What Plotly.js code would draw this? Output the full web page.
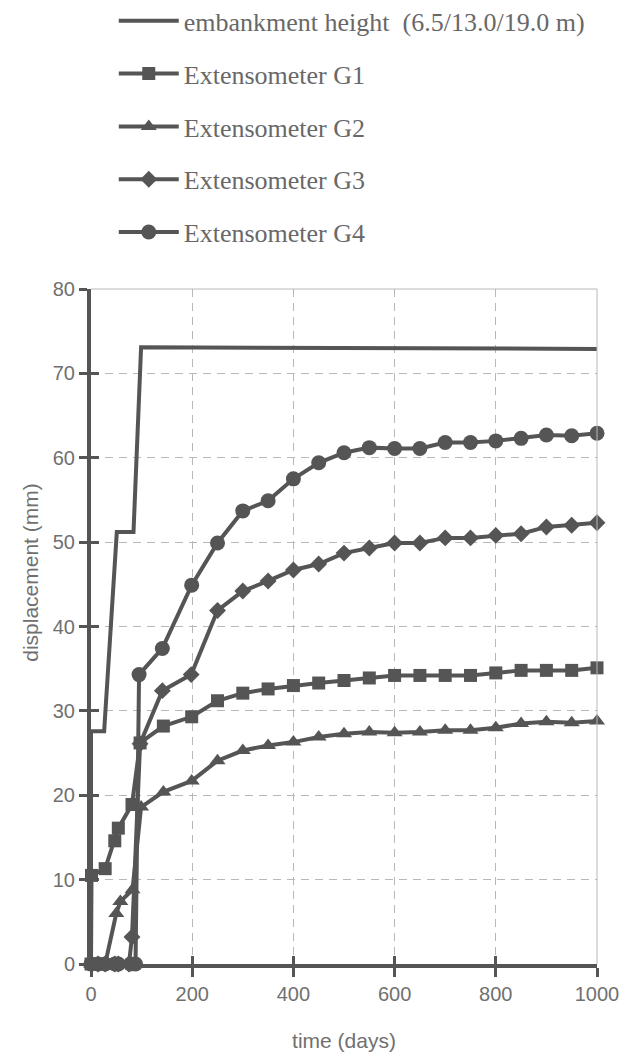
<!DOCTYPE html>
<html>
<head>
<meta charset="utf-8">
<script src="https://cdn.plot.ly/plotly-3.0.1.min.js"></script>
<style>html,body{margin:0;padding:0;background:#fff;}#chart{width:637px;height:1061px;}</style>
</head>
<body>
<div id="chart"></div>
<script>
// ---- data ----
var embankDays = [0, 0, 26, 51, 84, 99, 1000];
var embankHeight = [0, 27.6, 27.6, 51.2, 51.2, 73.1, 72.9];

var g1Days = [0, 1, 28, 47, 54, 81, 97, 143, 199, 250, 300, 350, 400, 450, 500, 550, 600, 650, 700, 750, 800, 850, 900, 950, 1000];
var g1Disp = [0, 10.5, 11.3, 14.6, 16.1, 18.9, 26.2, 28.2, 29.3, 31.2, 32.1, 32.6, 33.0, 33.3, 33.6, 33.9, 34.2, 34.2, 34.2, 34.2, 34.5, 34.8, 34.8, 34.8, 35.1];

var g2Days = [0, 14, 28, 50, 58, 82, 99, 143, 199, 250, 300, 350, 400, 450, 500, 550, 600, 650, 700, 750, 800, 850, 900, 950, 1000];
var g2Disp = [0, 0, 0, 6.0, 7.4, 8.8, 18.6, 20.4, 21.7, 24.1, 25.3, 25.9, 26.3, 26.9, 27.3, 27.5, 27.4, 27.5, 27.7, 27.7, 28.0, 28.5, 28.7, 28.6, 28.8];

var g3Days = [0, 14, 28, 47, 54, 75, 81, 97, 141, 198, 250, 300, 350, 400, 450, 500, 550, 600, 650, 700, 750, 800, 850, 900, 950, 1000];
var g3Disp = [0, 0, 0, 0, 0, 0, 3.2, 26.1, 32.4, 34.3, 41.9, 44.2, 45.4, 46.7, 47.4, 48.7, 49.3, 49.9, 49.9, 50.5, 50.5, 50.8, 51.0, 51.8, 52.0, 52.3];

var g4Days = [0, 14, 28, 47, 54, 78, 88, 95, 141, 199, 250, 300, 350, 400, 450, 500, 550, 600, 650, 700, 750, 800, 850, 900, 950, 1000];
var g4Disp = [0, 0, 0, 0, 0, 0, 0, 34.3, 37.4, 44.9, 49.9, 53.7, 54.9, 57.5, 59.4, 60.6, 61.2, 61.1, 61.1, 61.8, 61.8, 62.0, 62.3, 62.7, 62.6, 62.9];

var xTicks = [0, 200, 400, 600, 800, 1000];
var yTicks = [0, 10, 20, 30, 40, 50, 60, 70, 80];

var seriesNames = ['embankment height  (6.5/13.0/19.0 m)', 'Extensometer G1', 'Extensometer G2', 'Extensometer G3', 'Extensometer G4'];

// ---- styling ----
var ink = '#555555';
var textGray = '#707070';
function series(x, y, name, symbol, size, grp) {
  var t = {
    x: x, y: y, name: name, type: 'scatter',
    mode: symbol ? 'lines+markers' : 'lines',
    line: {color: ink, width: 4},
    legendgroup: grp, cliponaxis: false
  };
  if (symbol) t.marker = {symbol: symbol, size: size, color: ink};
  return t;
}
var traces = [
  series(embankDays, embankHeight, seriesNames[0], null, 0, 'a'),
  series(g1Days, g1Disp, seriesNames[1], 'square', 13, 'b'),
  series(g2Days, g2Disp, seriesNames[2], 'triangle-up', 14, 'c'),
  series(g3Days, g3Disp, seriesNames[3], 'diamond', 13, 'd'),
  series(g4Days, g4Disp, seriesNames[4], 'circle', 15, 'e'),
  {x: [0], y: [0], xaxis: 'x2', yaxis: 'y2', showlegend: false, type: 'scatter', mode: 'markers', marker: {opacity: 0}}
];

var layout = {
  width: 637, height: 1061,
  margin: {l: 91, r: 40, t: 289, b: 97, pad: 0, autoexpand: false},
  paper_bgcolor: '#fff', plot_bgcolor: '#fff',
  font: {family: 'Liberation Sans, Arial, sans-serif', color: textGray},
  showlegend: true,
  legend: {
    x: 0.045, xanchor: 'left', y: 1.432, yanchor: 'top',
    font: {family: 'Liberation Serif, Times New Roman, serif', size: 26, color: '#686868'},
    tracegroupgap: 16, itemwidth: 60, bgcolor: 'rgba(0,0,0,0)'
  },
  xaxis: {
    range: [0, 1000], tickvals: xTicks, ticktext: xTicks.map(String),
    showline: true, linecolor: ink, linewidth: 4,
    ticks: 'outside', ticklen: 9, tickwidth: 3, tickcolor: ink,
    showgrid: true, gridcolor: '#b8b8b8', griddash: '8px,6px', gridwidth: 1,
    zeroline: false, tickfont: {size: 20, color: textGray},
    title: {text: 'time (days)', font: {size: 21, color: textGray}, standoff: 30}
  },
  yaxis: {
    range: [0, 80], tickvals: yTicks, ticktext: yTicks.map(String),
    showline: true, linecolor: ink, linewidth: 4,
    ticks: 'outside', ticklen: 8, tickwidth: 3, tickcolor: ink,
    showgrid: true, gridcolor: '#b8b8b8', griddash: '8px,6px', gridwidth: 1,
    zeroline: false, tickfont: {size: 20, color: textGray}
  },
  xaxis2: {range: [0, 1000], overlaying: 'x', tickvals: xTicks, ticks: 'inside', ticklen: 8, tickwidth: 3, tickcolor: ink, showticklabels: false, showgrid: false, zeroline: false, showline: false},
  yaxis2: {range: [0, 80], overlaying: 'y', tickvals: yTicks, ticks: 'inside', ticklen: 8, tickwidth: 3, tickcolor: ink, showticklabels: false, showgrid: false, zeroline: false, showline: false},
  shapes: [
    {type: 'line', xref: 'x domain', yref: 'y domain', x0: 0, x1: 1, y0: 1, y1: 1, line: {color: '#b8b8b8', width: 1}},
    {type: 'line', xref: 'x domain', yref: 'y domain', x0: 1, x1: 1, y0: 0, y1: 1, line: {color: '#b8b8b8', width: 1}}
  ],
  annotations: [{
    text: 'displacement (mm)', xref: 'paper', yref: 'paper',
    x: -0.12, y: 0.58, xanchor: 'center', yanchor: 'middle', textangle: -90,
    showarrow: false, font: {size: 21, color: textGray}
  }]
};

Plotly.newPlot('chart', traces, layout, {displayModeBar: false, staticPlot: true});
</script>
</body>
</html>
